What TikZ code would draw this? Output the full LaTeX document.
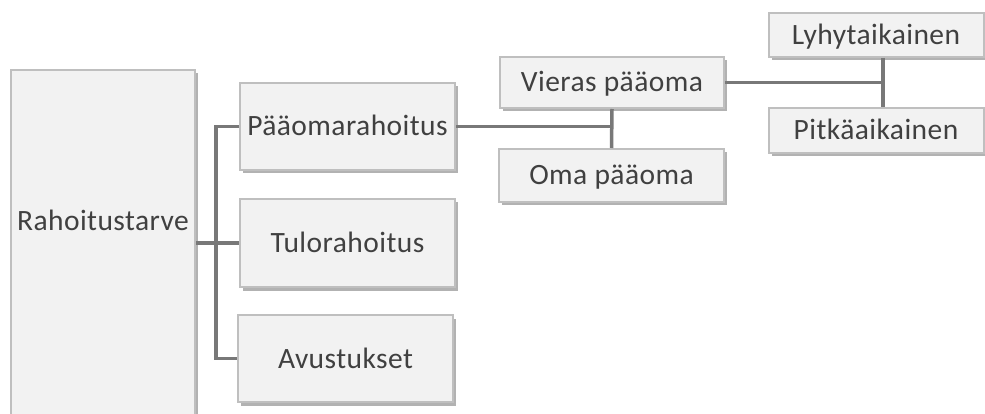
\documentclass[tikz,border=0pt]{standalone}
\usepackage{fontspec}
\newfontfamily\rhfont[LetterSpace=1.5]{Carlito}
\definecolor{rhFill}{RGB}{242, 242, 242}
\definecolor{rhBorder}{RGB}{191, 191, 191}
\definecolor{rhLine}{RGB}{120, 120, 120}
\definecolor{rhText}{RGB}{64, 64, 64}
\usetikzlibrary{shadows, positioning, calc}

\begin{document}
\begin{tikzpicture}[x=1pt, y=-1pt,
  laatikko/.style={draw=rhBorder, line width=2pt, fill=rhFill, text=rhText, inner sep=0pt,
    font=\rhfont\fontsize{29.5}{34}\selectfont, text height=19pt, text depth=0pt,
    drop shadow={shadow xshift=3pt, shadow yshift=-3.5pt, fill=black, opacity=0.3}},
  yhteys/.style={draw=rhLine, line width=3.5pt}]
  \useasboundingbox (0,0) rectangle (985,414);
  \clip (0,0) rectangle (985,414);
  \node[laatikko, minimum width=184pt, minimum height=380pt] (tarve) at (103,260) {};
  \node[text=rhText, font=\rhfont\fontsize{29.5}{34}\selectfont, text height=19pt, text depth=0pt, inner sep=0pt] (tarveteksti) at (103,221) {Rahoitustarve};
  \foreach \nimi/\txt/\x/\y/\w/\h in {
    paaoma/Pääomarahoitus/347.5/126.5/215/87,
    tulo/Tulorahoitus/347.5/243/215/88,
    avustus/Avustukset/345.5/358.5/215/87,
    vieras/Vieras pääoma/612/82.5/224/51,
    oma/Oma pääoma/611.5/175.5/225/53,
    lyhyt/Lyhytaikainen/876/35/215/44,
    pitka/Pitkäaikainen/876/130.5/215/45%
  } {
    \node[laatikko, minimum width=\w pt, minimum height=\h pt] (\nimi) at (\x,\y) {\txt};
  }
  \draw[yhteys] (tarve.east |- tulo.west) -- (tulo.west);
  \draw[yhteys] (paaoma.west) -- ++(-23,0) |- (avustus.west);
  \draw[yhteys] (paaoma.east) -- (paaoma.east -| vieras.south);
  \draw[yhteys] (vieras.south) -- (oma.north);
  \coordinate (liitos) at ([xshift=7pt]lyhyt.south |- vieras.east);
  \draw[yhteys] (vieras.east) -- (liitos);
  \draw[yhteys] ([xshift=7pt]lyhyt.south) -- ([xshift=7pt]pitka.north);
\end{tikzpicture}
\end{document}
